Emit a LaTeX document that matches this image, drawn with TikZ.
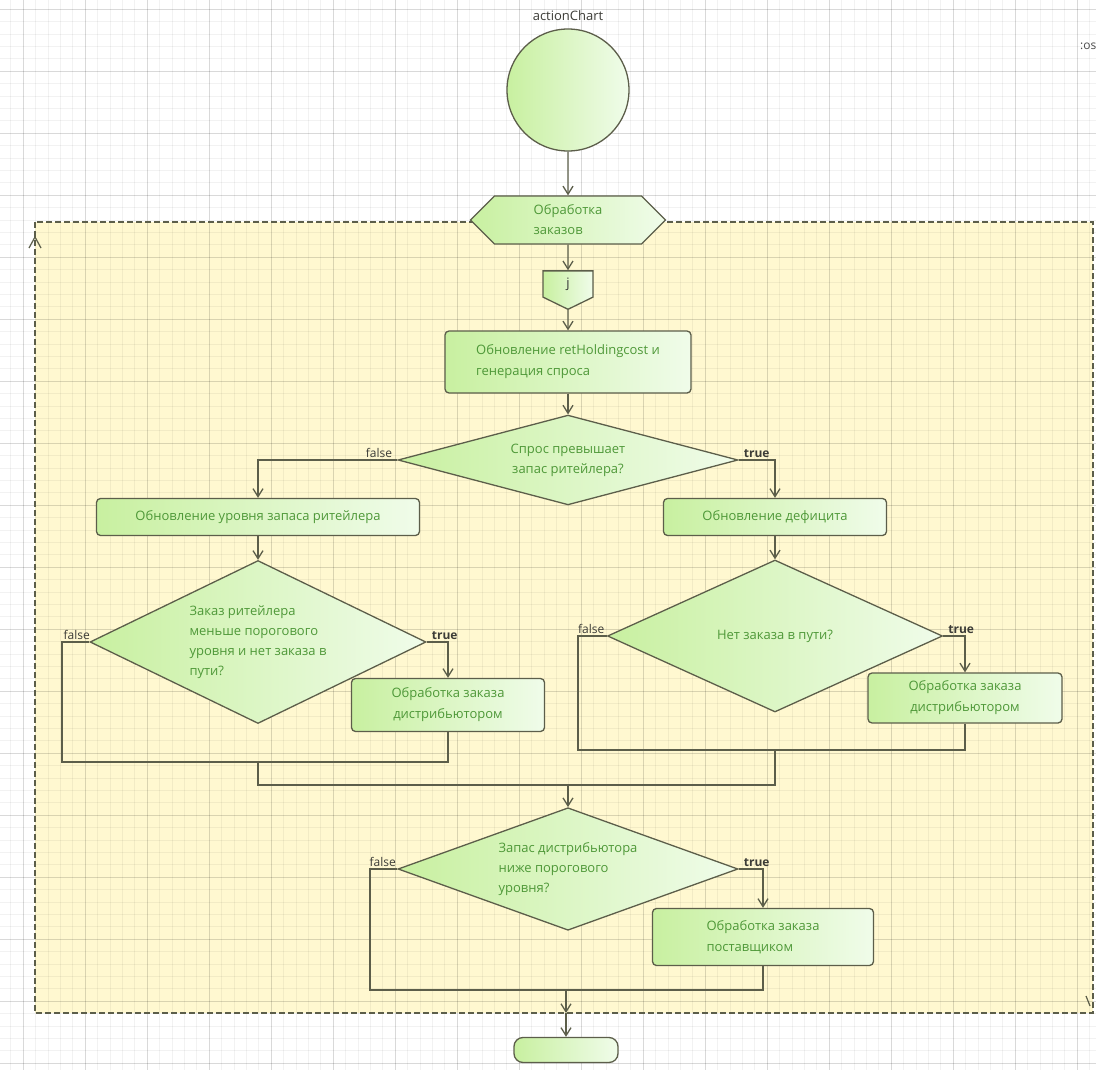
\documentclass[tikz,border=0pt]{standalone}
\usepackage{fontspec}
\setmainfont{Open Sans}
\usepackage{tikz}
\usetikzlibrary{arrows.meta,shapes.geometric,shapes.symbols}
\usepackage{xcolor}
\definecolor{alframe}{RGB}{92,94,74}
\definecolor{algreen}{RGB}{200,240,160}
\definecolor{allight}{RGB}{240,252,234}
\definecolor{altext}{RGB}{78,152,56}
\definecolor{alyellow}{RGB}{255,248,208}
\definecolor{allabel}{RGB}{60,60,55}
\tikzstyle{arrow} = [line width=1.3pt,->,>={Straight Barb[length=8pt,width=10pt]},color=alframe]
\tikzstyle{flow} = [line width=1.3pt,color=alframe]
\tikzstyle{block} = [rectangle, rounded corners=4pt, draw=alframe, line width=1.3pt, left color=algreen, right color=allight, text=altext, align=left, font=\fontsize{13}{21}\selectfont]
\tikzstyle{decision} = [diamond, aspect=2, inner sep=0pt, draw=alframe, line width=1.3pt, left color=algreen, right color=allight, text=altext, align=left, font=\fontsize{13}{20}\selectfont]
\tikzstyle{answer} = [font=\fontsize{12}{14}\selectfont, text=allabel, inner sep=2pt]
\tikzstyle{gridminor} = [line width=0.5pt, black, opacity=0.05]
\tikzstyle{gridmajor} = [line width=0.7pt, black, opacity=0.1]

\begin{document}
\begin{tikzpicture}[x=1pt,y=-1pt]
\useasboundingbox (0,0) rectangle (1096,1070);
% Background and grid
\fill[white] (0,0) rectangle (1096,1070);
\fill[alyellow] (35,222) rectangle (1093,1013);
\foreach \i in {0,...,90} \draw[gridminor] ({-1.8+12.4*\i},0) -- ++(0,1070);
\foreach \i in {0,...,88} \draw[gridminor] (0,{-3.4+12.4*\i}) -- ++(1096,0);
\foreach \i in {0,...,18} \draw[gridmajor] ({-39+62*\i},0) -- ++(0,1070);
\foreach \i in {0,...,18} \draw[gridmajor] (0,{9+62*\i}) -- ++(1096,0);
\draw[alframe, line width=1.6pt, dash pattern=on 6pt off 3pt] (35,222) rectangle (1093,1013);
\draw[alframe, line width=1.2pt] (29,248) -- (35,237) -- (41,248);
\draw[alframe, line width=1.2pt] (1086,996) -- (1090,1006);
\node[answer, anchor=west, text=black!70] (cut) at (1078,46) {:os};

% Start and entry
\node[font=\fontsize{13}{15}\selectfont, text=allabel] (title) at (568,16) {actionChart};
\node[circle, draw=alframe, line width=1.3pt, left color=algreen, right color=allight, minimum size=122pt, inner sep=0pt] (start) at (568,90) {};
\node[signal, signal to=east and west, draw=alframe, line width=1.3pt, left color=algreen, right color=allight, text=altext, align=left, minimum width=195pt, minimum height=48pt, inner sep=2pt, font=\fontsize{13}{20}\selectfont] (orders) at (568,220) {Обработка\\заказов};
\node[signal, signal to=south, signal pointer angle=128, draw=alframe, line width=1.3pt, left color=algreen, right color=allight, text=black!80, minimum width=50pt, minimum height=28pt, inner sep=2pt, font=\fontsize{13}{15}\selectfont] (jn) at (568,284) {j};

\node[block, minimum width=246pt, minimum height=62pt] (upd) at (568,362) {Обновление retHoldingcost и\\генерация спроса};

% First decision
\node[decision, align=center, minimum width=340pt, minimum height=84pt] (dec1) at (568,460) {Спрос превышает\\запас ритейлера?};
\node[block, minimum width=323pt, minimum height=37pt] (stockupd) at (258,517) {Обновление уровня запаса ритейлера};
\node[block, minimum width=223pt, minimum height=37pt] (deficit) at (775,517) {Обновление дефицита};

% Retailer branch
\node[decision, minimum width=336pt, minimum height=163pt] (retorder) at (258,642) {Заказ ритейлера\\меньше порогового\\уровня и нет заказа в\\пути?};
\node[block, align=center, minimum width=193pt, minimum height=53pt] (distL) at (448,705) {Обработка заказа\\дистрибьютором};

% Deficit branch
\node[decision, minimum width=335pt, minimum height=152pt] (transit) at (775,636) {Нет заказа в пути?};
\node[block, align=center, minimum width=194pt, minimum height=50pt] (distR) at (965,698) {Обработка заказа\\дистрибьютором};

% Distributor decision
\node[decision, minimum width=340pt, minimum height=120pt] (distdec) at (568,869) {Запас дистрибьютора\\ниже порогового\\уровня?};
\node[block, minimum width=221pt, minimum height=57pt] (supp) at (763,937) {Обработка заказа\\поставщиком};
\node[rectangle, rounded corners=9pt, draw=alframe, line width=1.3pt, left color=algreen, right color=allight, minimum width=104pt, minimum height=25pt] (finish) at (566,1050) {};

% Junction points
\coordinate (jl) at (62,762);
\coordinate (ml) at (258,762);
\coordinate (jr) at (578,750);
\coordinate (mr) at (775,750);
\coordinate (cl) at (258,785);
\coordinate (cr) at (775,785);
\coordinate (mc) at (568,785);
\coordinate (jb) at (370,990);
\coordinate (mb) at (566,990);
\coordinate (exit) at (566,1013);

% Connectors
\draw[arrow] (start) -- (orders);
\draw[arrow] (orders) -- (jn);
\draw[arrow] (jn) -- (upd);
\draw[arrow] (upd) -- (dec1);
\draw[arrow] (dec1.west) -| (stockupd.north);
\draw[arrow] (dec1.east) -| (deficit.north);
\draw[arrow] (stockupd) -- (retorder);
\draw[arrow] (deficit) -- (transit);
\draw[arrow] (retorder.east) -| (distL.north);
\draw[flow] (retorder.west) -| (jl) -| (distL.south);
\draw[arrow] (transit.east) -| (distR.north);
\draw[flow] (transit.west) -| (jr) -| (distR.south);
\draw[flow] (ml) -- (cl) -- (cr) -- (mr);
\draw[arrow] (mc) -- (distdec);
\draw[arrow] (distdec.east) -| (supp.north);
\draw[flow] (distdec.west) -| (jb) -| (supp.south);
\draw[arrow] (mb) -- (exit);
\draw[arrow] (exit) -- (finish);

% Branch labels
\node[answer, anchor=south east] (f1) at ([xshift=-3pt]dec1.west) {false};
\node[answer, anchor=south west, font=\fontsize{12}{14}\bfseries] (t1) at ([xshift=3pt]dec1.east) {true};
\node[answer, anchor=south west] (f2) at ([xshift=-28pt]retorder.west) {false};
\node[answer, anchor=south west, font=\fontsize{12}{14}\bfseries] (t2) at ([xshift=3pt]retorder.east) {true};
\node[answer, anchor=south west] (f3) at ([xshift=-31pt]transit.west) {false};
\node[answer, anchor=south west, font=\fontsize{12}{14}\bfseries] (t3) at ([xshift=3pt]transit.east) {true};
\node[answer, anchor=south west] (f4) at ([xshift=-30pt]distdec.west) {false};
\node[answer, anchor=south west, font=\fontsize{12}{14}\bfseries] (t4) at ([xshift=3pt]distdec.east) {true};
\end{tikzpicture}
\end{document}
